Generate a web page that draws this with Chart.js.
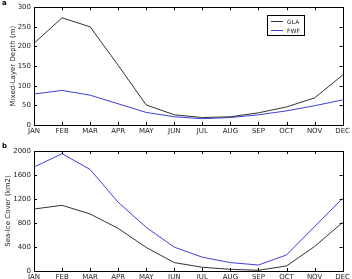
<!DOCTYPE html>
<html>
<head>
<meta charset="utf-8">
<script src="https://cdn.jsdelivr.net/npm/chart.js@4.4.0/dist/chart.umd.min.js"></script>
<style>
  html, body { margin: 0; padding: 0; background: #fff; overflow: hidden; width: 352px; height: 279px; }
  .panel { position: absolute; left: 0; width: 352px; }
  .lbl { position: absolute; font: bold 7px "DejaVu Sans", sans-serif; color: #000; }
</style>
</head>
<body>
<div class="panel" style="top:0;height:140px"><canvas id="mld" width="352" height="140"></canvas></div>
<div class="panel" style="top:139px;height:146px"><canvas id="ice" width="352" height="146"></canvas></div>
<div class="lbl" style="left:2px;top:-1px">a</div>
<div class="lbl" style="left:2px;top:142px">b</div>
<script>
const months = ['JAN', 'FEB', 'MAR', 'APR', 'MAY', 'JUN', 'JUL', 'AUG', 'SEP', 'OCT', 'NOV', 'DEC'];
const mldGLA = [208, 273, 250, 152, 51, 26, 19, 21, 31, 46, 69, 127];
const mldFWF = [79, 88, 76, 54, 32, 21, 16, 19, 26, 36, 49, 64];
const iceGLA = [1033, 1095, 950, 710, 392, 140, 62, 28, 12, 84, 408, 810];
const iceFWF = [1732, 1955, 1692, 1146, 727, 397, 230, 140, 100, 268, 740, 1212];

const FONT = { family: 'DejaVu Sans', size: 7 };
Chart.defaults.font = FONT;
Chart.defaults.color = '#222';

// matplotlib-like inward ticks on all four sides
const innerTicks = {
  id: 'innerTicks',
  afterDraw(chart) {
    const { ctx, chartArea: a, scales } = chart;
    ctx.save();
    ctx.strokeStyle = '#000';
    ctx.lineWidth = 1;
    ctx.beginPath();
    scales.x.ticks.forEach((t, i) => {
      const x = Math.round(scales.x.getPixelForTick(i)) + 0.5;
      ctx.moveTo(x, a.bottom); ctx.lineTo(x, a.bottom - 3);
      ctx.moveTo(x, a.top); ctx.lineTo(x, a.top + 3);
    });
    scales.y.ticks.forEach((t, i) => {
      const y = Math.round(scales.y.getPixelForTick(i)) + 0.5;
      ctx.moveTo(a.left, y); ctx.lineTo(a.left + 3, y);
      ctx.moveTo(a.right, y); ctx.lineTo(a.right - 3, y);
    });
    ctx.stroke();
    ctx.strokeRect(Math.round(a.left) + 0.5, Math.round(a.top) + 0.5,
      Math.round(a.right - a.left), Math.round(a.bottom - a.top));
    ctx.restore();
  }
};

const boxLegend = {
  id: 'boxLegend',
  afterDraw(chart, args, opts) {
    if (!opts.show) return;
    const ctx = chart.ctx;
    ctx.save();
    ctx.fillStyle = '#fff';
    ctx.fillRect(267.5, 15.5, 37, 20);
    ctx.strokeStyle = '#000';
    ctx.lineWidth = 1;
    ctx.strokeRect(267.5, 15.5, 37, 20);
    ctx.font = '6px "DejaVu Sans"';
    ctx.textBaseline = 'middle';
    chart.data.datasets.forEach((ds, i) => {
      const y = 21.5 + i * 9;
      ctx.strokeStyle = ds.borderColor;
      ctx.beginPath(); ctx.moveTo(271, y); ctx.lineTo(283, y); ctx.stroke();
      ctx.fillStyle = '#222';
      ctx.fillText(ds.label, 287, y + 0.5);
    });
    ctx.restore();
  }
};

function makeChart(id, gla, fwf, yMax, yStep, yTitle, titlePad, pad, xHeight, legend) {
  return new Chart(document.getElementById(id), {
    type: 'line',
    data: {
      labels: months,
      datasets: [
        { label: 'GLA', data: gla, borderColor: '#333333', borderWidth: 1, pointRadius: 0, tension: 0 },
        { label: 'FWF', data: fwf, borderColor: '#3f3fdc', borderWidth: 1, pointRadius: 0, tension: 0 }
      ]
    },
    options: {
      responsive: false,
      animation: false,
      layout: { padding: { top: pad, right: 9, left: 0, bottom: 0 } },
      plugins: { legend: { display: false }, tooltip: { enabled: false }, boxLegend: { show: legend } },
      scales: {
        x: {
          grid: { display: false, drawTicks: false },
          border: { display: false },
          ticks: { padding: 2, maxRotation: 0, autoSkip: false, color: '#222' },
          afterFit(s) { s.height = xHeight; }
        },
        y: {
          min: 0, max: yMax,
          grid: { display: false, drawTicks: false },
          border: { display: false },
          ticks: { stepSize: yStep, padding: 3, color: '#222', callback: v => String(v) },
          title: { display: true, text: yTitle, padding: { top: titlePad, bottom: 0 }, font: FONT, color: '#222' },
          afterFit(s) { s.width = 34; }
        }
      }
    },
    plugins: [innerTicks, boxLegend]
  });
}

makeChart('mld', mldGLA, mldFWF, 300, 50, 'Mixed-Layer Depth (m)', 9, 5, 15, true);
makeChart('ice', iceGLA, iceFWF, 2000, 400, 'Sea-Ice Cover (km2)', 4, 12, 14, false);
</script>
</body>
</html>
